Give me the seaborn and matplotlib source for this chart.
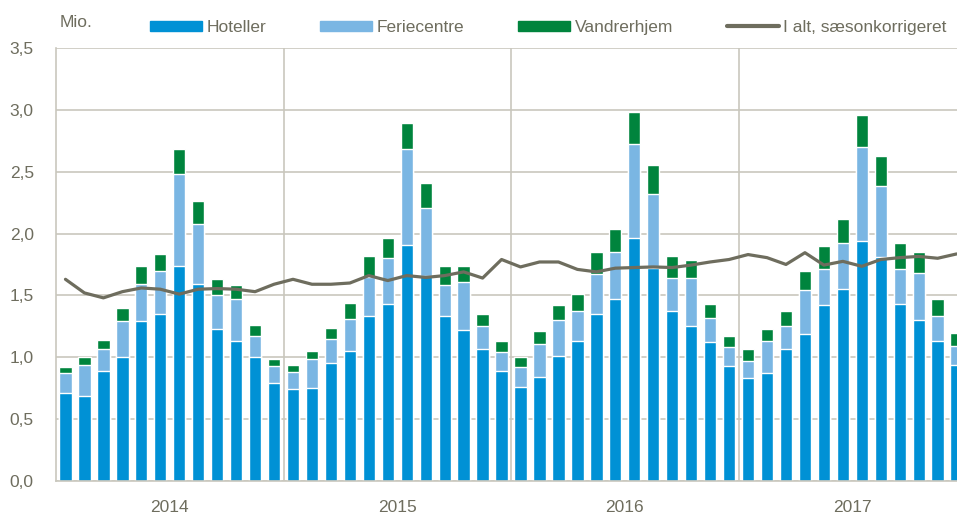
import numpy as np
import pandas as pd
import matplotlib
matplotlib.use("Agg")
import matplotlib.pyplot as plt
import seaborn as sns
from matplotlib.patches import Patch
from matplotlib.lines import Line2D

# overnatninger pr. maaned, mio. (jan 2014 - dec 2017)
years = ['2014', '2015', '2016', '2017']

hoteller = [0.71, 0.69, 0.89, 1.00, 1.29, 1.35, 1.74, 1.59, 1.23, 1.13, 1.00, 0.79,
            0.74, 0.75, 0.95, 1.05, 1.33, 1.43, 1.91, 1.66, 1.33, 1.22, 1.07, 0.89,
            0.76, 0.84, 1.01, 1.13, 1.35, 1.47, 1.96, 1.72, 1.37, 1.25, 1.12, 0.93,
            0.83, 0.87, 1.07, 1.19, 1.42, 1.55, 1.94, 1.81, 1.43, 1.30, 1.13, 0.94]

feriecentre = [0.16, 0.25, 0.18, 0.29, 0.30, 0.35, 0.74, 0.49, 0.27, 0.34, 0.17, 0.14,
               0.14, 0.24, 0.20, 0.26, 0.32, 0.37, 0.77, 0.55, 0.25, 0.39, 0.18, 0.15,
               0.16, 0.27, 0.29, 0.24, 0.32, 0.38, 0.76, 0.60, 0.27, 0.39, 0.20, 0.15,
               0.14, 0.26, 0.18, 0.35, 0.29, 0.37, 0.76, 0.57, 0.28, 0.38, 0.20, 0.15]

vandrerhjem = [0.05, 0.06, 0.07, 0.11, 0.145, 0.135, 0.20, 0.18, 0.13, 0.11, 0.09, 0.06,
               0.06, 0.06, 0.09, 0.13, 0.17, 0.16, 0.21, 0.20, 0.16, 0.13, 0.10, 0.09,
               0.08, 0.10, 0.12, 0.14, 0.18, 0.19, 0.26, 0.23, 0.18, 0.15, 0.11, 0.09,
               0.095, 0.10, 0.12, 0.16, 0.19, 0.20, 0.26, 0.25, 0.21, 0.17, 0.14, 0.11]

i_alt = [1.63, 1.52, 1.48, 1.53, 1.56, 1.55, 1.51, 1.55, 1.555, 1.55, 1.53, 1.59,
         1.63, 1.59, 1.59, 1.60, 1.66, 1.62, 1.66, 1.645, 1.66, 1.69, 1.64, 1.79,
         1.73, 1.77, 1.77, 1.71, 1.69, 1.72, 1.725, 1.73, 1.725, 1.745, 1.77, 1.79,
         1.83, 1.805, 1.75, 1.845, 1.745, 1.775, 1.735, 1.79, 1.805, 1.815, 1.80, 1.835]

df = pd.DataFrame({'hoteller': hoteller, 'feriecentre': feriecentre,
                   'vandrerhjem': vandrerhjem, 'i_alt': i_alt})
df['x'] = np.arange(len(df))
df['lvl2'] = df['hoteller'] + df['feriecentre']
df['lvl3'] = df['lvl2'] + df['vandrerhjem']

c_hot = '#0091D5'
c_fer = '#7AB6E3'
c_van = '#00843D'
c_line = '#6E6D5E'
c_grid = '#C9C7BD'
c_text = '#6E6D5E'

sns.set_style("white")
plt.rcParams['font.family'] = ['Liberation Sans', 'DejaVu Sans']

fig = plt.figure(figsize=(9.57, 5.15), dpi=100)
ax = fig.add_axes([0.0585, 0.066, 0.9415, 0.841])

# stacked bars: draw the totals first, then the lower layers on top
sns.barplot(data=df, x='x', y='lvl3', color=c_van, saturation=1, width=0.65,
            errorbar=None, ax=ax, zorder=2)
sns.barplot(data=df, x='x', y='lvl2', color=c_fer, saturation=1, width=0.65,
            errorbar=None, ax=ax, zorder=2)
sns.barplot(data=df, x='x', y='hoteller', color=c_hot, saturation=1, width=0.65,
            errorbar=None, ax=ax, zorder=2)
sns.lineplot(x=df['x'].values, y=df['i_alt'].values, color=c_line, linewidth=2.3,
             ax=ax, zorder=3)

ax.set_ylim(0, 3.5)
ax.set_xlim(-0.5, 47.02)
ax.set_yticks(np.arange(0, 3.51, 0.5))
ax.set_yticklabels([('%.1f' % v).replace('.', ',') for v in np.arange(0, 3.51, 0.5)])
ax.set_xticks([5.5, 17.5, 29.5, 41.5])
ax.set_xticklabels(years)
ax.set_xlabel('')
ax.set_ylabel('')

ax.set_axisbelow(True)
ax.grid(axis='y', color=c_grid, linewidth=1.2, zorder=0)
for b in [11.5, 23.5, 35.5]:
    ax.axvline(b, color=c_grid, linewidth=1.2, zorder=0)

for s in ['top', 'right']:
    ax.spines[s].set_visible(False)
ax.spines['left'].set_color(c_grid)
ax.spines['bottom'].set_color(c_grid)
ax.spines['left'].set_linewidth(1.2)
ax.spines['bottom'].set_linewidth(1.2)
ax.tick_params(axis='both', length=0, labelsize=12.5, colors=c_text)
ax.tick_params(axis='x', pad=14)
ax.tick_params(axis='y', pad=16)

fig.text(0.062, 0.957, 'Mio.', fontsize=12.5, color=c_text, ha='left', va='center')

handles = [Patch(color=c_hot), Patch(color=c_fer), Patch(color=c_van),
           Line2D([0], [0], color=c_line, linewidth=3)]
labels = ['Hoteller', 'Feriecentre', 'Vandrerhjem', 'I alt, sæsonkorrigeret']
leg = fig.legend(handles, labels, loc='center', bbox_to_anchor=(0.573, 0.947),
                 ncol=4, frameon=False, fontsize=12.5, handlelength=3.0,
                 handleheight=0.5, handletextpad=0.25, columnspacing=3.1,
                 borderpad=0)
for t in leg.get_texts():
    t.set_color(c_text)

fig.savefig('out.png', dpi=100)
